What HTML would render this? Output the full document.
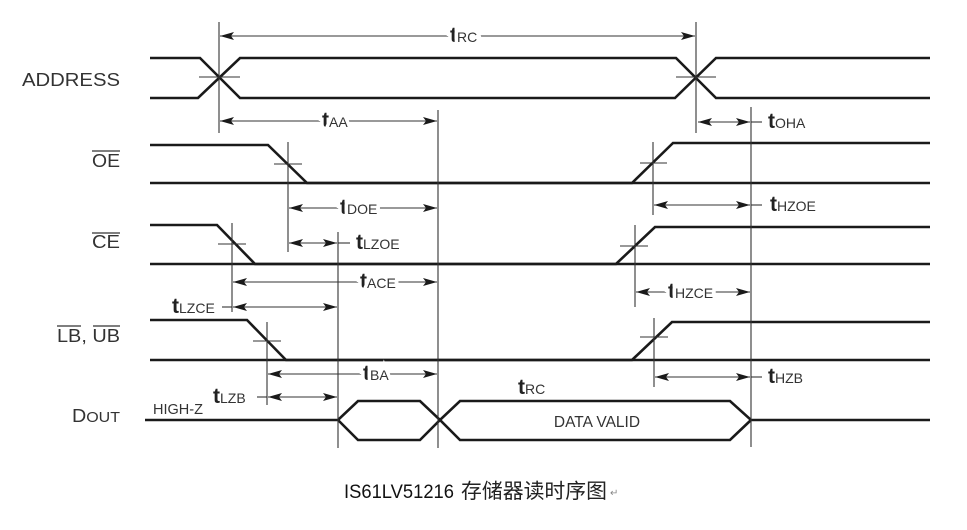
<!DOCTYPE html>
<html><head><meta charset="utf-8"><style>
html,body{margin:0;padding:0;background:#fff;}
svg{display:block;}
.s{stroke:#1a1a1a;stroke-width:2.6;fill:none;stroke-linejoin:miter;}
.g{stroke:#333;stroke-width:1.1;fill:none;}
.ol{stroke:#333;stroke-width:1.3;fill:none;}
.lbl{font-family:"Liberation Sans",sans-serif;font-size:18.5px;fill:#333;}
.t{font-family:"Liberation Sans",sans-serif;fill:#333;}
.tb{font-weight:bold;font-size:21px;fill:#222;}
.ts{font-size:14px;}
.bg{paint-order:stroke;stroke:#fff;stroke-width:7px;}
</style></head><body>
<svg width="967" height="530" viewBox="0 0 967 530" xmlns="http://www.w3.org/2000/svg">
<defs>
<marker id="a" viewBox="0 0 14 8" refX="14" refY="4" markerWidth="14" markerHeight="8" markerUnits="userSpaceOnUse" orient="auto-start-reverse">
<path d="M0,0 L14,4 L0,8 L3,4 Z" fill="#1a1a1a"/></marker>
</defs>

<!-- signal labels -->
<text class="lbl" x="22" y="86" textLength="98" lengthAdjust="spacingAndGlyphs">ADDRESS</text>
<text class="lbl" x="92" y="167" textLength="28" lengthAdjust="spacingAndGlyphs">OE</text>
<line x1="92" y1="151" x2="120" y2="151" class="ol"/>
<text class="lbl" x="92" y="248" textLength="28" lengthAdjust="spacingAndGlyphs">CE</text>
<line x1="92" y1="233" x2="120" y2="233" class="ol"/>
<text class="lbl" x="57" y="342" textLength="63" lengthAdjust="spacingAndGlyphs">LB, UB</text>
<line x1="57" y1="326" x2="81" y2="326" class="ol"/>
<line x1="93" y1="326" x2="120" y2="326" class="ol"/>
<text class="lbl" x="72" y="422" textLength="48" lengthAdjust="spacingAndGlyphs">D<tspan font-size="15">OUT</tspan></text>

<!-- ADDRESS -->
<path class="s" d="M150,58 H200 L240,98 H675 L716,58 H930"/>
<path class="s" d="M150,98 H198 L240,58 H676 L716,98 H930"/>
<line class="g" x1="199" y1="77" x2="240" y2="77"/>
<line class="g" x1="676" y1="77" x2="716" y2="77"/>

<!-- OE -->
<path class="s" d="M150,145 H268 L307,183 H930"/>
<path class="s" d="M150,183 H632 L673,143 H930"/>
<line class="g" x1="274" y1="164" x2="302" y2="164"/>
<line class="g" x1="640" y1="163" x2="667" y2="163"/>

<!-- CE -->
<path class="s" d="M150,225 H217 L255,264 H930"/>
<path class="s" d="M150,264 H616 L655,227 H930"/>
<line class="g" x1="218" y1="244" x2="246" y2="244"/>
<line class="g" x1="620" y1="246" x2="648" y2="246"/>

<!-- LB UB -->
<path class="s" d="M150,320 H247 L286,360 H930"/>
<path class="s" d="M150,360 H632 L672,322 H930"/>
<line class="g" x1="253" y1="341" x2="281" y2="341"/>
<line class="g" x1="640" y1="337" x2="668" y2="337"/>

<!-- DOUT -->
<path class="s" d="M145,420 H338 L358,401 H420 L440,420 L460,401 H730 L751,420 H930"/>
<path class="s" d="M338,420 L358,440 H420 L440,420 L460,440 H730 L751,420"/>
<text class="t" x="153" y="414" font-size="14.5">HIGH-Z</text>
<text class="t" x="597" y="427" font-size="15.5" text-anchor="middle">DATA VALID</text>

<!-- vertical guides -->
<line class="g" x1="219" y1="22" x2="219" y2="133"/>
<line class="g" x1="696" y1="22" x2="696" y2="133"/>
<line class="g" x1="438" y1="110" x2="438" y2="448"/>
<line class="g" x1="288" y1="142" x2="288" y2="252"/>
<line class="g" x1="232" y1="223" x2="232" y2="312"/>
<line class="g" x1="338" y1="232" x2="338" y2="448"/>
<line class="g" x1="267" y1="322" x2="267" y2="405"/>
<line class="g" x1="751" y1="107" x2="751" y2="447"/>
<line class="g" x1="653" y1="142" x2="653" y2="215"/>
<line class="g" x1="635" y1="225" x2="635" y2="307"/>
<line class="g" x1="654" y1="318" x2="654" y2="387"/>

<!-- timing arrows -->
<line class="g" x1="220" y1="36" x2="695" y2="36" marker-start="url(#a)" marker-end="url(#a)"/>
<text class="t bg" x="450" y="42"><tspan class="tb">t</tspan><tspan class="ts">RC</tspan></text>

<line class="g" x1="220" y1="121" x2="437" y2="121" marker-start="url(#a)" marker-end="url(#a)"/>
<text class="t bg" x="322" y="127"><tspan class="tb">t</tspan><tspan class="ts">AA</tspan></text>

<line class="g" x1="289" y1="208" x2="437" y2="208" marker-start="url(#a)" marker-end="url(#a)"/>
<text class="t bg" x="340" y="214"><tspan class="tb">t</tspan><tspan class="ts">DOE</tspan></text>

<line class="g" x1="289" y1="243" x2="337" y2="243" marker-start="url(#a)" marker-end="url(#a)"/>
<line class="g" x1="338" y1="243" x2="350" y2="243"/>
<text class="t" x="356" y="249"><tspan class="tb">t</tspan><tspan class="ts">LZOE</tspan></text>

<line class="g" x1="233" y1="282" x2="437" y2="282" marker-start="url(#a)" marker-end="url(#a)"/>
<text class="t bg" x="360" y="288"><tspan class="tb">t</tspan><tspan class="ts">ACE</tspan></text>

<line class="g" x1="233" y1="307" x2="337" y2="307" marker-start="url(#a)" marker-end="url(#a)"/>
<line class="g" x1="222" y1="307" x2="232" y2="307"/>
<text class="t" x="172" y="313"><tspan class="tb">t</tspan><tspan class="ts">LZCE</tspan></text>

<line class="g" x1="268" y1="374" x2="437" y2="374" marker-start="url(#a)" marker-end="url(#a)"/>
<text class="t bg" x="363" y="380"><tspan class="tb">t</tspan><tspan class="ts">BA</tspan></text>

<line class="g" x1="268" y1="397" x2="337" y2="397" marker-start="url(#a)" marker-end="url(#a)"/>
<line class="g" x1="257" y1="397" x2="267" y2="397"/>
<text class="t" x="213" y="403"><tspan class="tb">t</tspan><tspan class="ts">LZB</tspan></text>

<text class="t" x="518" y="394"><tspan class="tb">t</tspan><tspan class="ts">RC</tspan></text>

<line class="g" x1="698" y1="122" x2="750" y2="122" marker-start="url(#a)" marker-end="url(#a)"/>
<line class="g" x1="751" y1="122" x2="762" y2="122"/>
<text class="t" x="768" y="128"><tspan class="tb">t</tspan><tspan class="ts">OHA</tspan></text>

<line class="g" x1="654" y1="205" x2="750" y2="205" marker-start="url(#a)" marker-end="url(#a)"/>
<line class="g" x1="751" y1="205" x2="762" y2="205"/>
<text class="t" x="770" y="211"><tspan class="tb">t</tspan><tspan class="ts">HZOE</tspan></text>

<line class="g" x1="636" y1="292" x2="750" y2="292" marker-start="url(#a)" marker-end="url(#a)"/>
<text class="t bg" x="668" y="298"><tspan class="tb">t</tspan><tspan class="ts">HZCE</tspan></text>

<line class="g" x1="655" y1="377" x2="750" y2="377" marker-start="url(#a)" marker-end="url(#a)"/>
<line class="g" x1="751" y1="377" x2="762" y2="377"/>
<text class="t" x="768" y="383"><tspan class="tb">t</tspan><tspan class="ts">HZB</tspan></text>

<!-- caption -->
<text x="344" y="498" font-family="'Liberation Sans',sans-serif" font-size="19" fill="#111" textLength="110" lengthAdjust="spacingAndGlyphs">IS61LV51216</text>
<text x="461" y="498" font-family="'Liberation Sans','Noto Sans CJK SC',sans-serif" font-size="20.5" fill="#222" textLength="146" lengthAdjust="spacingAndGlyphs">存储器读时序图</text>
<text x="610" y="496" font-family="'Liberation Sans',sans-serif" font-size="10" fill="#888">↵</text>
</svg>
</body></html>
